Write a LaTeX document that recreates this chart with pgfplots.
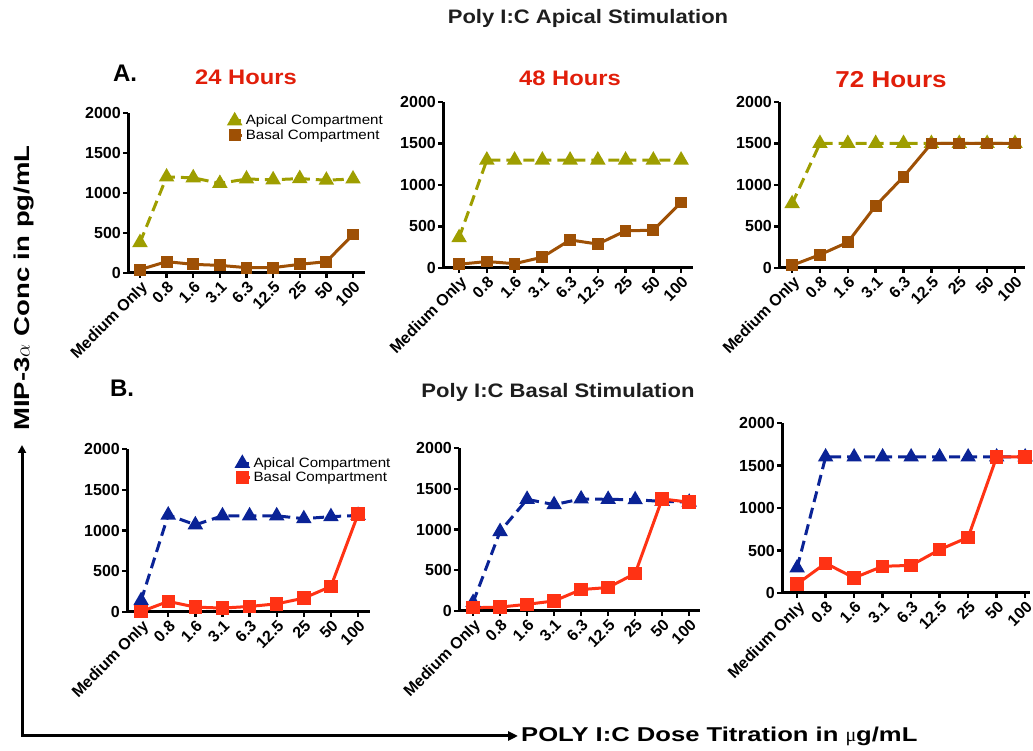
\documentclass[border=0pt]{standalone}
\usepackage{fontspec}
\setmainfont{Liberation Sans}
\newfontfamily\stA[FakeStretch=1.13]{Liberation Sans}
\newfontfamily\stB[FakeStretch=1.28]{Liberation Sans}
\newfontfamily\stL[FakeStretch=1.12]{Liberation Sans}
\newfontfamily\serifmu{Liberation Serif}
\usepackage{pgfplots}
\pgfplotsset{compat=1.18}
\usetikzlibrary{arrows.meta}
\definecolor{olv}{RGB}{158,158,0}
\definecolor{brn}{RGB}{158,80,5}
\definecolor{blu}{RGB}{10,35,150}
\definecolor{rd}{RGB}{255,50,20}
\definecolor{hr}{RGB}{225,30,10}
\definecolor{ttl}{RGB}{30,30,30}
\pgfplotsset{
 panel/.style={
  scale only axis, clip=false,
  axis x line*=bottom, axis y line*=left,
  axis line style={line width=3pt, black, -},
  ymin=0, ymax=2000, ytick={0,500,1000,1500,2000},
  xtick={0,...,8},
  xticklabels={Medium Only,0.8,1.6,3.1,6.3,12.5,25,50,100},
  tick align=outside, major tick length=5pt,
  tick style={black, line width=2.4pt},
  tick label style={font=\bfseries\fontsize{16}{16}\selectfont, text=black},
  x tick label style={rotate=45, anchor=north east, inner sep=1.5pt},
  y tick label style={inner sep=2pt},
  /pgf/number format/1000 sep={},
  /pgf/number format/assume math mode=true,
  legend image code/.code={\draw[##1, only marks] plot coordinates {(0.15cm,0cm)}; \path (0cm,0cm) -- (0.42cm,0cm);},
  legend style={draw=none, fill=none, anchor=north west, font=\stL\fontsize{13.5}{14}\selectfont, row sep=-1pt, inner sep=0pt, cells={anchor=west}},
 },
 apA/.style={color=olv, dash pattern=on 11pt off 6pt, line width=3pt, mark=triangle*, mark size=6pt, mark options={solid, fill=olv}},
 baA/.style={color=brn, solid, line width=3pt, mark=square*, mark size=4.4pt, mark options={solid, fill=brn}},
 apB/.style={color=blu, dash pattern=on 11pt off 6pt, line width=3pt, mark=triangle*, mark size=6pt, mark options={solid, fill=blu}},
 baB/.style={color=rd, solid, line width=3pt, mark=square*, mark size=5.2pt, mark options={solid, fill=rd}},
}
\begin{document}
\begin{tikzpicture}[x=1pt,y=1pt]
\useasboundingbox (0,0) rectangle (1033,751);
% ---------- titles ----------
\node[text=ttl, font=\stA\bfseries\fontsize{19.5}{20}\selectfont] at (588,733) {Poly I:C Apical Stimulation};
\node[font=\bfseries\fontsize{24}{24}\selectfont] at (125,678) {A.};
\node[text=hr, font=\stA\bfseries\fontsize{21}{21}\selectfont] at (246,674) {24 Hours};
\node[text=hr, font=\stA\bfseries\fontsize{21}{21}\selectfont] at (570,673) {48 Hours};
\node[text=hr, font=\stA\bfseries\fontsize{23}{23}\selectfont] at (891,671) {72 Hours};
\node[font=\bfseries\fontsize{24}{24}\selectfont] at (122,363) {B.};
\node[text=ttl, font=\stA\bfseries\fontsize{19.5}{20}\selectfont] at (558,359) {Poly I:C Basal Stimulation};
% ---------- outer axis labels ----------
\node[rotate=90, font=\stB\bfseries\fontsize{21.5}{20}\selectfont] at (24,463) {MIP-3$\alpha$ Conc in pg/mL};
\draw[line width=3pt, {Triangle[length=8pt,width=8pt]}-{Triangle[length=10pt,width=9pt]}] (22,306) -- (22,15) -- (518,15);
\node[anchor=west, font=\stB\bfseries\fontsize{20}{20}\selectfont, inner sep=0pt] at (521,15) {POLY I:C Dose Titration in {\serifmu\mdseries μ}g/mL};
% ---------- A1: 24 h ----------
\begin{axis}[panel, at={(128pt,478pt)}, anchor=south west, width=237pt, height=160pt, xmin=-0.45, xmax=8.45,
  legend style={at={(0.425,1.0)}}]
\addplot[apA] coordinates {(0,380)(1,1200)(2,1190)(3,1120)(4,1175)(5,1165)(6,1180)(7,1160)(8,1175)};
\addlegendentry{Apical Compartment}
\addplot[baA] coordinates {(0,42)(1,142)(2,108)(3,95)(4,67)(5,67)(6,108)(7,142)(8,480)};
\addlegendentry{Basal Compartment}
\end{axis}
% ---------- A2: 48 h ----------
\begin{axis}[panel, at={(443pt,483pt)}, anchor=south west, width=250pt, height=166pt, xmin=-0.58, xmax=8.43]
\addplot[apA] coordinates {(0,365)(1,1300)(2,1300)(3,1300)(4,1300)(5,1300)(6,1300)(7,1300)(8,1300)};
\addplot[baA] coordinates {(0,45)(1,78)(2,52)(3,130)(4,338)(5,288)(6,448)(7,455)(8,790)};
\end{axis}
% ---------- A3: 72 h ----------
\begin{axis}[panel, at={(779pt,483pt)}, anchor=south west, width=246pt, height=166pt, xmin=-0.47, xmax=8.36]
\addplot[apA] coordinates {(0,775)(1,1500)(2,1500)(3,1500)(4,1500)(5,1500)(6,1500)(7,1500)(8,1500)};
\addplot[baA] coordinates {(0,32)(1,160)(2,310)(3,750)(4,1100)(5,1500)(6,1500)(7,1500)(8,1500)};
\end{axis}
% ---------- B1 ----------
\begin{axis}[panel, at={(127pt,139pt)}, anchor=south west, width=243pt, height=163pt, xmin=-0.52, xmax=8.44,
  legend style={at={(0.45,0.96)}}]
\addplot[apB] coordinates {(0,140)(1,1190)(2,1070)(3,1180)(4,1180)(5,1180)(6,1145)(7,1170)(8,1185)};
\addlegendentry{Apical Compartment}
\addplot[baB] coordinates {(0,5)(1,130)(2,60)(3,48)(4,68)(5,100)(6,170)(7,314)(8,1200)};
\addlegendentry{Basal Compartment}
\end{axis}
% ---------- B2 ----------
\begin{axis}[panel, at={(459pt,140pt)}, anchor=south west, width=241pt, height=163pt, xmin=-0.52, xmax=8.4]
\addplot[apB] coordinates {(0,105)(1,975)(2,1370)(3,1305)(4,1375)(5,1370)(6,1365)(7,1345)(8,1335)};
\addplot[baB] coordinates {(0,40)(1,48)(2,82)(3,123)(4,263)(5,288)(6,460)(7,1375)(8,1335)};
\end{axis}
% ---------- B3 ----------
\begin{axis}[panel, at={(782pt,158pt)}, anchor=south west, width=248pt, height=170pt, xmin=-0.53, xmax=8.17]
\addplot[apB] coordinates {(0,295)(1,1600)(2,1600)(3,1600)(4,1600)(5,1600)(6,1600)(7,1600)(8,1600)};
\addplot[baB] coordinates {(0,106)(1,350)(2,178)(3,314)(4,325)(5,510)(6,655)(7,1600)(8,1600)};
\end{axis}
\end{tikzpicture}
\end{document}
